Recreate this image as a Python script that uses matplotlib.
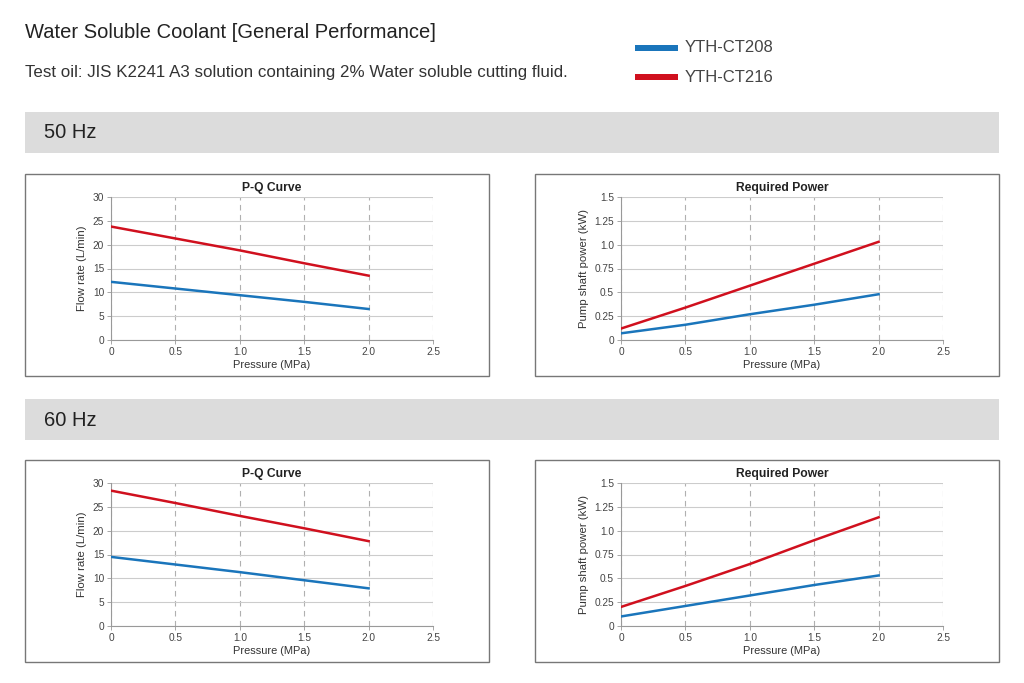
import matplotlib
matplotlib.use("Agg")
import matplotlib.pyplot as plt
from matplotlib.patches import Rectangle

plt.rcParams["font.family"] = ["Liberation Sans", "DejaVu Sans"]

# data
pressure = [0, 0.5, 1.0, 1.5, 2.0]
series_names = ["YTH-CT208", "YTH-CT216"]
pq_50_ct208 = [12.2, 10.8, 9.4, 8.0, 6.5]
pq_50_ct216 = [23.8, 21.3, 18.8, 16.1, 13.5]
pw_50_ct208 = [0.07, 0.16, 0.27, 0.37, 0.48]
pw_50_ct216 = [0.12, 0.34, 0.57, 0.80, 1.03]
pq_60_ct208 = [14.5, 12.9, 11.3, 9.6, 7.9]
pq_60_ct216 = [28.4, 25.8, 23.1, 20.5, 17.8]
pw_60_ct208 = [0.10, 0.21, 0.32, 0.43, 0.53]
pw_60_ct216 = [0.20, 0.42, 0.65, 0.90, 1.14]

pq_ticks = [0, 5, 10, 15, 20, 25, 30]
pw_ticks = [0, 0.25, 0.5, 0.75, 1.0, 1.25, 1.5]
pw_ticklabels = ["0", "0.25", "0.5", "0.75", "1.0", "1.25", "1.5"]
x_ticks = [0, 0.5, 1.0, 1.5, 2.0, 2.5]
x_ticklabels = ["0", "0.5", "1.0", "1.5", "2.0", "2.5"]

BLUE = "#1a75bb"
RED = "#d0101e"
W, H = 1024, 683

fig = plt.figure(figsize=(W / 100, H / 100), dpi=100)
fig.patch.set_facecolor("white")


def fx(px):
    return px / W


def fy(py):
    return 1 - py / H


def rect(x0, y0, x1, y1, fc, ec="none", lw=0):
    fig.patches.append(Rectangle((fx(x0), fy(y1)), fx(x1 - x0), (y1 - y0) / H,
                                 transform=fig.transFigure, facecolor=fc,
                                 edgecolor=ec, linewidth=lw, zorder=0))


# header
fig.text(fx(25), fy(32), "Water Soluble Coolant [General Performance]",
         fontsize=14.5, color="#222222", va="center", ha="left")
fig.text(fx(25), fy(72), "Test oil: JIS K2241 A3 solution containing 2% Water soluble cutting fluid.",
         fontsize=12.2, color="#333333", va="center", ha="left")
for name, col, py in zip(series_names, [BLUE, RED], [48, 77]):
    rect(635, py - 3, 678, py + 3, col)
    fig.text(fx(685), fy(py), name, fontsize=12, color="#444444", va="center", ha="left")

# frequency bands
for label, py in [("50 Hz", 112), ("60 Hz", 399)]:
    rect(25, py, 999, py + 41, "#dcdcdc")
    fig.text(fx(44), fy(py + 21), label, fontsize=14.5, color="#222222", va="center", ha="left")


def panel(px0, py0, title, ylabel, y_a, y_b, yticks, yticklabels):
    # outer frame
    rect(px0, py0, px0 + 464, py0 + 202, "none", ec="#777777", lw=1.0)
    ax0, ax1 = px0 + 86, px0 + 408
    ay0, ay1 = py0 + 23, py0 + 166
    ax = fig.add_axes([fx(ax0), fy(ay1), fx(ax1 - ax0), (ay1 - ay0) / H])
    ax.set_zorder(2)
    ax.plot(pressure, y_a, color=BLUE, lw=1.8, zorder=3)
    ax.plot(pressure, y_b, color=RED, lw=1.8, zorder=3)
    ax.set_xlim(0, 2.5)
    ax.set_ylim(yticks[0], yticks[-1])
    ax.set_xticks(x_ticks)
    ax.set_xticklabels(x_ticklabels)
    ax.set_yticks(yticks)
    ax.set_yticklabels(yticklabels)
    ax.tick_params(labelsize=7.3, colors="#444444", length=3, width=0.6, pad=2,
                   color="#999999")
    ax.yaxis.grid(True, color="#cccccc", lw=0.8)
    ax.xaxis.grid(True, color="#b0b0b0", lw=0.8, ls=(0, (5, 4)))
    ax.set_axisbelow(True)
    for s in ["top", "right"]:
        ax.spines[s].set_visible(False)
    for s in ["left", "bottom"]:
        ax.spines[s].set_color("#999999")
        ax.spines[s].set_linewidth(0.8)
    ax.set_title(title, fontsize=8.7, fontweight="bold", color="#222222", pad=4)
    ax.set_xlabel("Pressure (MPa)", fontsize=7.9, color="#333333", labelpad=2)
    ax.set_ylabel(ylabel, fontsize=8.2, color="#333333", labelpad=4)
    ax.set_facecolor("white")
    return ax


pq_labels = [str(v) for v in pq_ticks]
panel(25, 174, "P-Q Curve", "Flow rate (L/min)", pq_50_ct208, pq_50_ct216, pq_ticks, pq_labels)
panel(535, 174, "Required Power", "Pump shaft power (kW)", pw_50_ct208, pw_50_ct216, pw_ticks, pw_ticklabels)
panel(25, 460, "P-Q Curve", "Flow rate (L/min)", pq_60_ct208, pq_60_ct216, pq_ticks, pq_labels)
panel(535, 460, "Required Power", "Pump shaft power (kW)", pw_60_ct208, pw_60_ct216, pw_ticks, pw_ticklabels)

fig.savefig("out.png", dpi=100, facecolor="white")
